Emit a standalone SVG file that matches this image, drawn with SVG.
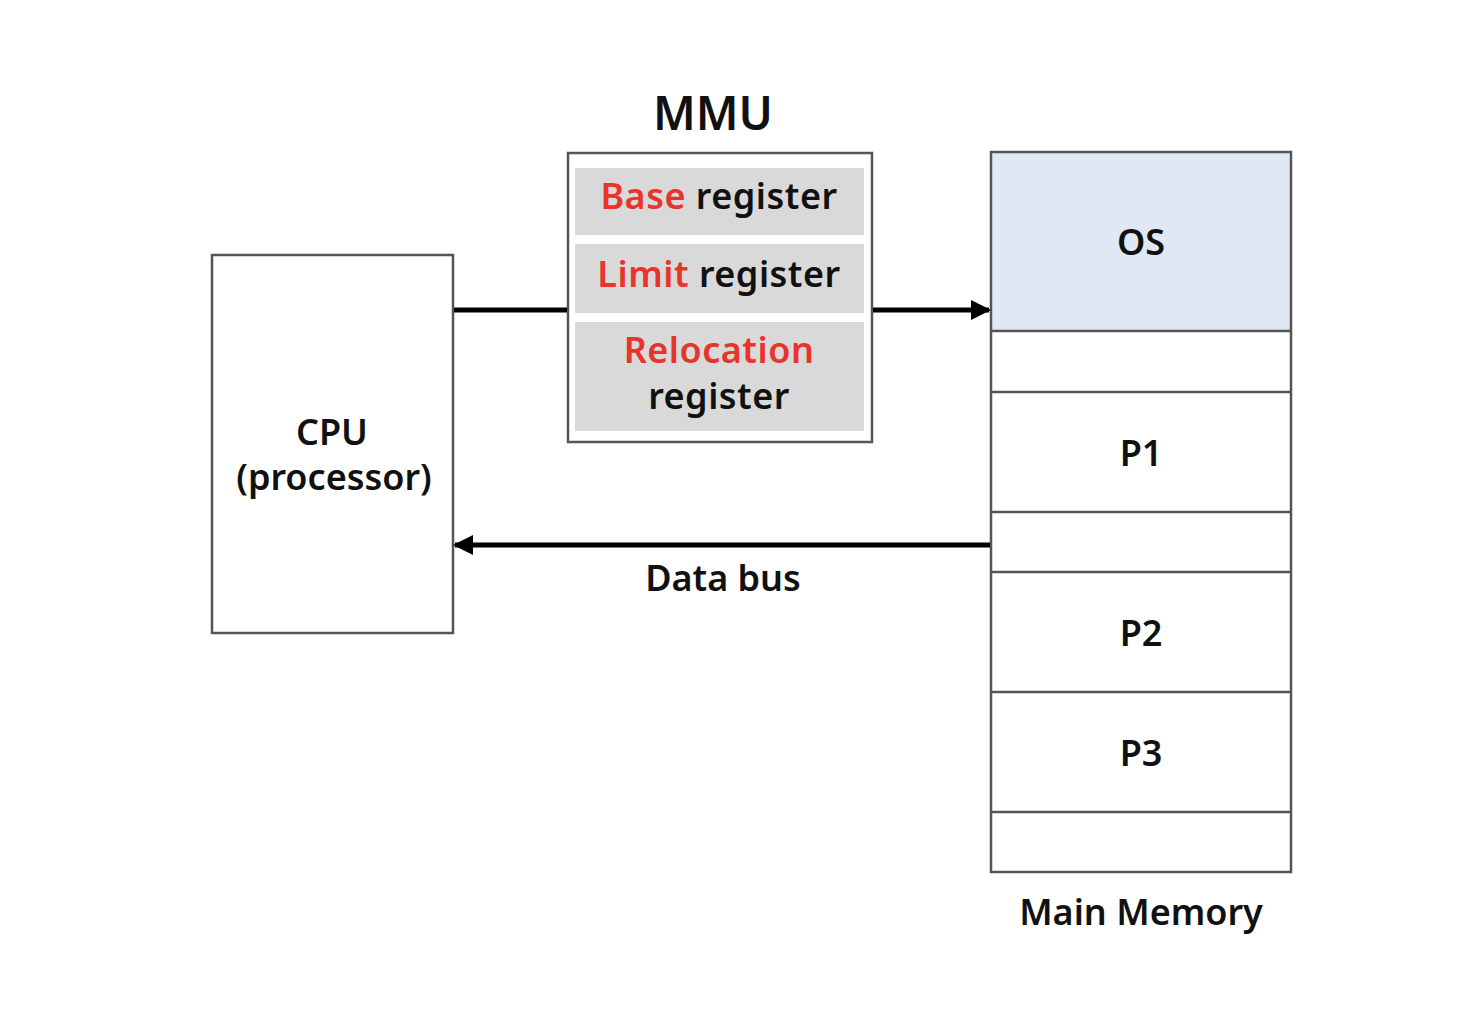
<svg xmlns="http://www.w3.org/2000/svg" width="1474" height="1024" viewBox="0 0 1474 1024">
<style>
.box{fill:#fff;stroke:#555;stroke-width:2.5}
.reg{fill:#d9d9d9}
.t{font-family:"Noto Sans","DejaVu Sans",sans-serif;font-weight:600;fill:#111;text-anchor:middle}
.r{fill:#e8342a}
.line{stroke:#000;stroke-width:5;fill:none}
</style>
<defs>
<marker id="ah" viewBox="0 0 10 10" refX="9" refY="5" markerWidth="4" markerHeight="4" markerUnits="strokeWidth" orient="auto">
<path d="M0,0 L10,5 L0,10 z" fill="#000"/>
</marker>
</defs>
<rect width="1474" height="1024" fill="#fff"/>
<g id="cpu">
<rect class="box" x="212" y="255" width="241" height="378"/>
<text class="t" x="332" y="445" font-size="36">CPU</text>
<text class="t" x="334" y="490" font-size="36">(processor)</text>
</g>
<g id="mmu">
<text class="t" x="713" y="130" font-size="46">MMU</text>
<rect class="box" x="568" y="153" width="304" height="289"/>
<rect class="reg" x="575" y="168" width="289" height="67"/>
<rect class="reg" x="575" y="244" width="289" height="69"/>
<rect class="reg" x="575" y="322" width="289" height="109"/>
<text class="t" x="719" y="209" font-size="36" letter-spacing="0.5"><tspan class="r">Base</tspan> register</text>
<text class="t" x="719" y="287" font-size="36" letter-spacing="0.5"><tspan class="r">Limit</tspan> register</text>
<text class="t" x="719" y="363" font-size="36" letter-spacing="0.5"><tspan class="r">Relocation</tspan></text>
<text class="t" x="719" y="409" font-size="36" letter-spacing="0.5">register</text>
</g>
<g id="memory">
<rect x="991" y="152" width="300" height="179" fill="#dfe8f3"/>
<rect x="991" y="152" width="300" height="720" fill="none" stroke="#555" stroke-width="2.5"/>
<g stroke="#555" stroke-width="2.5">
<line x1="991" y1="331" x2="1291" y2="331"/>
<line x1="991" y1="392" x2="1291" y2="392"/>
<line x1="991" y1="512" x2="1291" y2="512"/>
<line x1="991" y1="572" x2="1291" y2="572"/>
<line x1="991" y1="692" x2="1291" y2="692"/>
<line x1="991" y1="812" x2="1291" y2="812"/>
</g>
<text class="t" x="1141" y="255" font-size="36">OS</text>
<text class="t" x="1141" y="466" font-size="36">P1</text>
<text class="t" x="1141" y="646" font-size="36">P2</text>
<text class="t" x="1141" y="766" font-size="36">P3</text>
<text class="t" x="1141" y="925" font-size="36">Main Memory</text>
</g>
<g id="connectors">
<line class="line" x1="454" y1="310" x2="567" y2="310"/>
<line class="line" x1="873" y1="310" x2="989" y2="310" marker-end="url(#ah)"/>
<line class="line" x1="990" y1="545" x2="455" y2="545" marker-end="url(#ah)"/>
<text class="t" x="723" y="591" font-size="36">Data bus</text>
</g>
</svg>
